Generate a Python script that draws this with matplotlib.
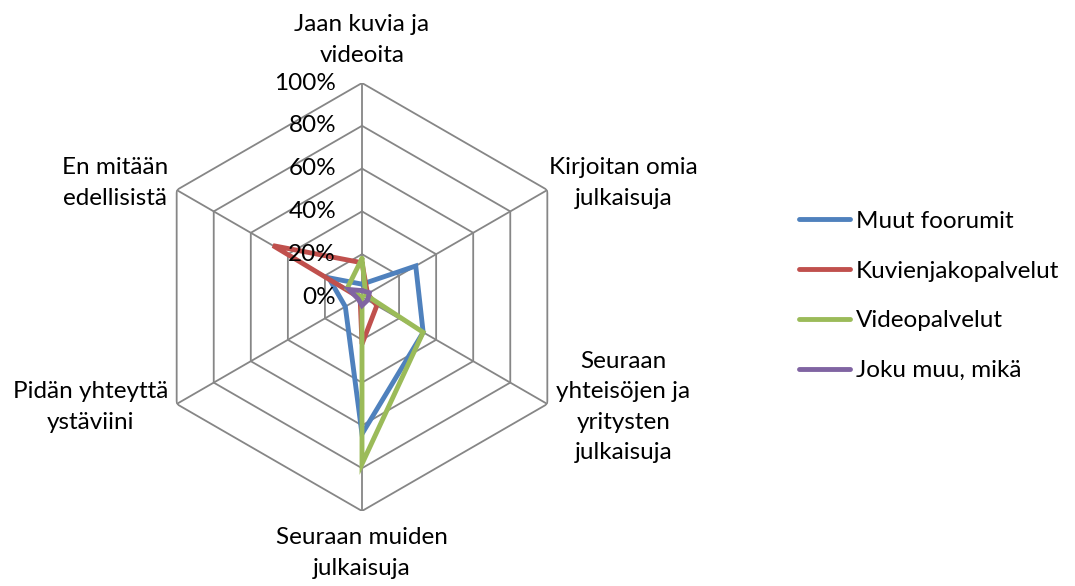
import numpy as np
import matplotlib
matplotlib.use("Agg")
import matplotlib.pyplot as plt
from matplotlib.lines import Line2D

plt.rcParams['font.family'] = ['Lato', 'DejaVu Sans']

categories = ["Jaan kuvia ja\nvideoita", "Kirjoitan omia\njulkaisuja",
              "Seuraan\nyhteisöjen ja\nyritysten\njulkaisuja",
              "Seuraan muiden\njulkaisuja", "Pidän yhteyttä\nystäviini",
              "En mitään\nedellisistä"]
series_names = ["Muut foorumit", "Kuvienjakopalvelut", "Videopalvelut", "Joku muu, mikä"]
muut_foorumit = [6, 29, 33, 64, 9, 18]
kuvienjakopalvelut = [16, 3, 8, 22, 1, 48]
videopalvelut = [18, 2, 33, 78, 0, 8]
joku_muu = [3, 4, 3, 4, 2, 7]
tick_values = [0, 20, 40, 60, 80, 100]
tick_labels = ["0%", "20%", "40%", "60%", "80%", "100%"]

colors = ["#4F81BD", "#C0504D", "#9BBB59", "#8064A2"]
grid_color = "#868686"
FS = 17.5

W, H = 1075, 586
fig = plt.figure(figsize=(W / 100, H / 100), dpi=100)
cx, cy, R = 362, 297, 214
ax = fig.add_axes([(cx - R) / W, (H - cy - R) / H, 2 * R / W, 2 * R / H], projection='polar')
ax.set_theta_zero_location('N')
ax.set_theta_direction(-1)
ax.set_ylim(0, 100)
ax.grid(False)
ax.spines['polar'].set_visible(False)
ax.set_xticks([])
ax.set_yticks([])
ax.patch.set_alpha(0)

n = len(categories)
theta = np.arange(n) * 2 * np.pi / n
theta_closed = np.append(theta, theta[0])

# hexagonal grid rings
for v in tick_values[1:]:
    ax.plot(theta_closed, [v] * (n + 1), color=grid_color, lw=1.3, zorder=1)
# spokes
for t in theta:
    ax.plot([t, t], [0, 100], color=grid_color, lw=1.3, zorder=1)

all_series = [muut_foorumit, kuvienjakopalvelut, videopalvelut, joku_muu]
for vals, col, name in zip(all_series, colors, series_names):
    ax.plot(theta_closed, list(vals) + [vals[0]], color=col, lw=3.5, label=name,
            zorder=3, solid_joinstyle='miter', solid_capstyle='round')

# radial tick labels
for v, lab in zip(tick_values, tick_labels):
    ax.annotate(lab, xy=(0, v), xytext=(-26, 0), textcoords='offset pixels',
                ha='right', va='center', fontsize=FS, color='black', annotation_clip=False)

# category labels
offsets = [(0, 43), (76, 7), (76, -3), (0, -42), (-86, -3), (-62, 7)]
for t, lab, off in zip(theta, categories, offsets):
    ax.annotate(lab, xy=(t, 100), xytext=off, textcoords='offset pixels',
                ha='center', va='center', multialignment='center',
                fontsize=FS, linespacing=1.56, annotation_clip=False)

handles = [Line2D([], [], color=c, lw=3.5, solid_capstyle='round') for c in colors]
leg = fig.legend(handles, series_names, loc='center left',
                 bbox_to_anchor=(799 / W, 1 - 296 / H), frameon=False,
                 fontsize=FS, handlelength=2.1, handletextpad=0.25,
                 labelspacing=1.18, borderaxespad=0, borderpad=0)

fig.savefig("out.png", dpi=100, facecolor='white')
